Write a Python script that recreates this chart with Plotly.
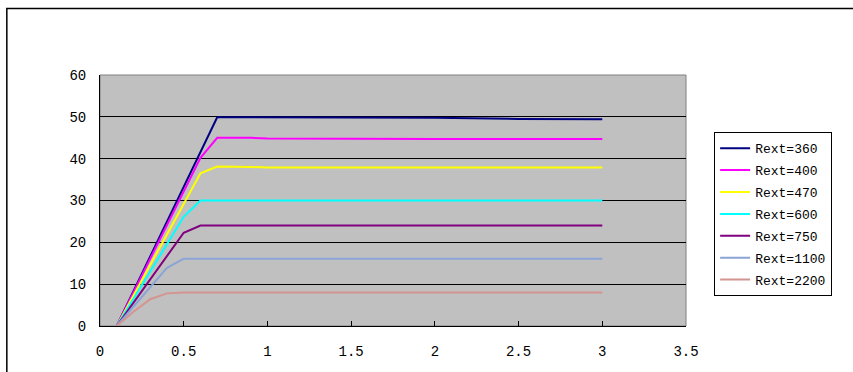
import plotly.graph_objects as go

# Measurement positions (x axis)
x_vals = [0.1, 0.2, 0.3, 0.4, 0.5, 0.6, 0.7, 0.8, 0.9, 1.0, 1.5, 2.0, 2.5, 3.0]

# Curves for each external resistance value
series_names = ["Rext=360", "Rext=400", "Rext=470", "Rext=600",
                "Rext=750", "Rext=1100", "Rext=2200"]
rext_360 = [0, 8.3, 16.6, 25.0, 33.3, 41.6, 49.9, 49.9, 49.9, 49.9, 49.9, 49.8, 49.5, 49.4]
rext_400 = [0, 8.0, 16.1, 24.1, 32.2, 40.2, 45.0, 45.0, 45.0, 44.8, 44.7, 44.7, 44.7, 44.7]
rext_470 = [0, 7.3, 14.6, 21.9, 29.2, 36.5, 38.1, 38.1, 38.0, 37.9, 37.9, 37.9, 37.9, 37.9]
rext_600 = [0, 6.5, 13.1, 19.6, 26.1, 30.0, 30.0, 30.0, 30.0, 30.0, 30.0, 30.0, 30.0, 30.0]
rext_750 = [0, 5.6, 11.2, 16.7, 22.3, 24.0, 24.0, 24.0, 24.0, 24.0, 24.0, 24.0, 24.0, 24.0]
rext_1100 = [0, 4.6, 9.3, 13.9, 16.1, 16.1, 16.1, 16.1, 16.1, 16.1, 16.1, 16.1, 16.1, 16.1]
rext_2200 = [0, 3.4, 6.4, 7.8, 8.0, 8.0, 8.0, 8.0, 8.0, 8.0, 8.0, 8.0, 8.0, 8.0]
series_values = [rext_360, rext_400, rext_470, rext_600, rext_750, rext_1100, rext_2200]
series_colors = ["#000080", "#FF00FF", "#FFFF00", "#00FFFF",
                 "#800080", "#8AA4D6", "#D4948F"]

x_ticks = [0, 0.5, 1, 1.5, 2, 2.5, 3, 3.5]
x_tick_text = ["0", "0.5", "1", "1.5", "2", "2.5", "3", "3.5"]
y_ticks = [0, 10, 20, 30, 40, 50, 60]

FONT = "Liberation Mono, DejaVu Sans Mono, monospace"

fig = go.Figure()
for name, vals, color in zip(series_names, series_values, series_colors):
    fig.add_trace(go.Scatter(
        x=x_vals, y=vals, name=name, mode="lines",
        line=dict(color=color, width=2),
        legendgroup=name,
    ))

fig.update_layout(
    width=853, height=372,
    margin=dict(l=100, r=167, t=75, b=46),
    paper_bgcolor="white",
    plot_bgcolor="#C0C0C0",
    font=dict(family=FONT, size=14, color="black"),
    showlegend=True,
    legend=dict(
        x=1.048, y=0.772, xanchor="left", yanchor="top",
        bgcolor="white", bordercolor="black", borderwidth=1,
        font=dict(family=FONT, size=13, color="black"),
        traceorder="grouped", tracegroupgap=2,
        itemwidth=30,
    ),
    xaxis=dict(
        range=[0, 3.5], tickvals=x_ticks, ticktext=x_tick_text,
        showgrid=False, zeroline=False,
        showline=True, linecolor="black", linewidth=1,
        ticks="inside", ticklen=5, tickcolor="black",
        ticklabelstandoff=12,
    ),
    yaxis=dict(
        range=[0, 60], tickvals=y_ticks,
        showgrid=True, gridcolor="black", gridwidth=1,
        zeroline=False,
        showline=True, linecolor="black", linewidth=1,
        ticks="", ticklabelstandoff=10,
    ),
    shapes=[
        # grey plot-area frame (top and right edges)
        dict(type="rect", xref="paper", yref="paper", x0=0, x1=1, y0=0, y1=1,
             line=dict(color="#808080", width=1), layer="below"),
        # outer chart-area border
        dict(type="rect", xref="paper", yref="paper",
             x0=-0.159, x1=1.4, y0=-0.3, y1=1.265,
             line=dict(color="black", width=1.5), layer="below"),
    ],
)

fig.write_html("out.html")
